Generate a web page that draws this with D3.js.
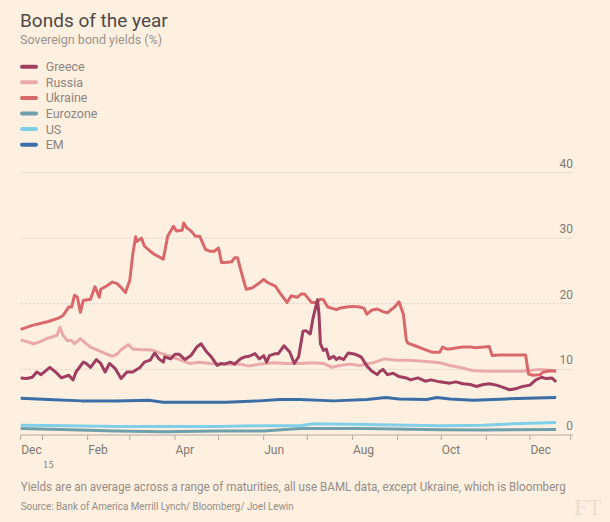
<!DOCTYPE html>
<html>
<head>
<meta charset="utf-8">
<script src="https://cdn.jsdelivr.net/npm/d3@7"></script>
<style>
  body { margin: 0; background: #fdf0e1; }
  svg { display: block; }
</style>
</head>
<body>
<svg id="chartSvg" width="610" height="522"></svg>
<script>
// series data: [date, yield %]
var greeceData = [["2015-12-17",8.7],["2015-12-21",8.6],["2015-12-25",8.8],["2015-12-28",9.6],["2015-12-31",9.2],["2016-01-06",10.3],["2016-01-10",9.6],["2016-01-14",8.7],["2016-01-19",9.1],["2016-01-22",8.4],["2016-01-24",9.6],["2016-01-29",11.1],["2016-01-31",10.9],["2016-02-03",10.3],["2016-02-07",11.5],["2016-02-10",10.9],["2016-02-13",9.6],["2016-02-16",10.9],["2016-02-20",10.1],["2016-02-24",8.6],["2016-02-28",9.6],["2016-03-03",9.6],["2016-03-08",10.3],["2016-03-11",11.1],["2016-03-15",11.4],["2016-03-18",12.5],["2016-03-21",11.6],["2016-03-24",11.1],["2016-03-25",11.9],["2016-03-29",11.6],["2016-04-01",12.3],["2016-04-04",12.3],["2016-04-08",11.5],["2016-04-12",12.1],["2016-04-16",13.4],["2016-04-19",13.9],["2016-04-23",12.6],["2016-04-26",11.9],["2016-04-30",10.6],["2016-05-03",10.9],["2016-05-05",10.8],["2016-05-09",11.1],["2016-05-12",10.8],["2016-05-16",11.6],["2016-05-19",11.9],["2016-05-22",12.0],["2016-05-26",12.4],["2016-05-29",11.6],["2016-06-01",12.1],["2016-06-03",11.1],["2016-06-05",12.1],["2016-06-09",12.4],["2016-06-11",12.4],["2016-06-15",13.6],["2016-06-19",12.6],["2016-06-22",10.9],["2016-06-25",11.9],["2016-06-28",15.8],["2016-06-30",15.9],["2016-07-03",15.4],["2016-07-05",17.9],["2016-07-08",20.6],["2016-07-09",18.4],["2016-07-10",13.9],["2016-07-12",12.9],["2016-07-14",13.1],["2016-07-16",11.6],["2016-07-19",12.0],["2016-07-21",11.5],["2016-07-23",11.8],["2016-07-26",11.5],["2016-07-29",12.5],["2016-08-03",12.3],["2016-08-07",11.9],["2016-08-11",10.5],["2016-08-14",9.8],["2016-08-18",9.2],["2016-08-20",9.7],["2016-08-22",10.0],["2016-08-25",9.2],["2016-08-29",9.4],["2016-09-02",8.9],["2016-09-07",8.7],["2016-09-10",8.4],["2016-09-15",8.7],["2016-09-20",8.2],["2016-09-24",8.4],["2016-09-30",8.1],["2016-10-07",7.9],["2016-10-11",8.1],["2016-10-16",7.8],["2016-10-21",7.7],["2016-10-25",7.4],["2016-10-30",7.7],["2016-11-03",7.8],["2016-11-08",7.6],["2016-11-12",7.3],["2016-11-17",6.9],["2016-11-22",7.1],["2016-11-26",7.4],["2016-12-01",7.6],["2016-12-05",8.4],["2016-12-09",8.8],["2016-12-12",8.6],["2016-12-16",8.7],["2016-12-19",8.1]];

var russiaData = [["2015-12-17",14.5],["2015-12-20",14.3],["2015-12-26",13.9],["2015-12-30",14.2],["2016-01-04",14.7],["2016-01-07",14.9],["2016-01-11",15.2],["2016-01-13",16.4],["2016-01-15",15.2],["2016-01-18",14.4],["2016-01-21",14.4],["2016-01-23",13.9],["2016-01-27",14.7],["2016-01-30",14.1],["2016-02-03",13.4],["2016-02-07",13.0],["2016-02-12",12.5],["2016-02-18",12.0],["2016-02-21",12.3],["2016-02-24",13.0],["2016-02-29",13.8],["2016-03-03",13.1],["2016-03-08",13.0],["2016-03-13",13.0],["2016-03-17",12.9],["2016-03-23",12.4],["2016-03-29",12.0],["2016-04-04",11.5],["2016-04-11",10.9],["2016-04-18",11.1],["2016-04-25",10.9],["2016-05-06",10.8],["2016-05-16",10.8],["2016-05-22",10.5],["2016-05-29",10.8],["2016-06-08",11.0],["2016-06-17",10.9],["2016-06-26",10.9],["2016-07-05",11.0],["2016-07-12",10.9],["2016-07-18",10.3],["2016-07-23",10.6],["2016-07-30",10.8],["2016-08-06",10.6],["2016-08-15",11.0],["2016-08-23",11.6],["2016-08-31",11.4],["2016-09-09",11.4],["2016-09-21",11.2],["2016-09-30",11.0],["2016-10-07",10.6],["2016-10-14",10.3],["2016-10-23",9.8],["2016-11-03",9.7],["2016-11-15",9.7],["2016-11-26",9.7],["2016-12-08",10.0],["2016-12-19",9.8]];

var ukraineData = [["2015-12-17",16.1],["2015-12-25",16.7],["2016-01-05",17.3],["2016-01-12",17.8],["2016-01-15",18.2],["2016-01-19",19.5],["2016-01-21",19.5],["2016-01-23",21.3],["2016-01-25",21.0],["2016-01-27",18.7],["2016-01-29",20.5],["2016-02-03",20.7],["2016-02-06",22.6],["2016-02-07",22.1],["2016-02-09",21.0],["2016-02-10",22.2],["2016-02-14",22.7],["2016-02-18",23.3],["2016-02-21",23.1],["2016-02-24",22.5],["2016-02-27",21.7],["2016-03-01",23.6],["2016-03-03",27.5],["2016-03-05",30.2],["2016-03-06",29.5],["2016-03-09",30.0],["2016-03-11",28.8],["2016-03-15",28.0],["2016-03-18",27.5],["2016-03-24",26.8],["2016-03-27",30.3],["2016-03-31",31.8],["2016-04-02",31.1],["2016-04-06",31.2],["2016-04-07",32.3],["2016-04-09",31.6],["2016-04-12",31.1],["2016-04-15",30.3],["2016-04-18",30.3],["2016-04-22",28.3],["2016-04-25",28.0],["2016-04-28",28.0],["2016-05-01",28.5],["2016-05-03",26.3],["2016-05-06",26.3],["2016-05-10",26.4],["2016-05-12",27.0],["2016-05-14",27.0],["2016-05-18",23.7],["2016-05-20",22.2],["2016-05-24",22.4],["2016-05-28",23.0],["2016-06-01",23.7],["2016-06-04",23.2],["2016-06-09",22.7],["2016-06-12",21.7],["2016-06-17",20.2],["2016-06-20",21.2],["2016-06-24",21.0],["2016-06-27",21.5],["2016-06-29",21.5],["2016-07-02",20.7],["2016-07-04",20.2],["2016-07-07",20.2],["2016-07-10",20.7],["2016-07-12",20.6],["2016-07-15",19.5],["2016-07-21",19.1],["2016-07-23",19.3],["2016-07-28",19.5],["2016-08-01",19.6],["2016-08-06",19.5],["2016-08-09",19.3],["2016-08-11",18.4],["2016-08-14",19.0],["2016-08-18",19.2],["2016-08-22",18.8],["2016-08-25",18.6],["2016-08-27",19.0],["2016-08-30",19.5],["2016-09-02",20.3],["2016-09-05",18.4],["2016-09-07",14.5],["2016-09-08",14.0],["2016-09-13",13.6],["2016-09-19",13.1],["2016-09-25",12.6],["2016-09-30",12.6],["2016-10-02",13.4],["2016-10-05",13.1],["2016-10-07",13.1],["2016-10-12",13.3],["2016-10-16",13.4],["2016-10-21",13.4],["2016-10-25",13.3],["2016-10-30",13.4],["2016-11-03",13.5],["2016-11-05",12.1],["2016-11-10",12.2],["2016-11-17",12.2],["2016-11-24",12.2],["2016-11-28",12.2],["2016-11-30",9.3],["2016-12-03",9.1],["2016-12-08",9.2],["2016-12-10",9.6],["2016-12-15",9.8],["2016-12-19",9.7]];

var eurozoneData = [["2015-12-17",1.0],["2016-01-20",0.8],["2016-02-20",0.6],["2016-03-24",0.5],["2016-04-30",0.6],["2016-06-01",0.6],["2016-06-26",1.0],["2016-08-10",1.0],["2016-09-30",0.8],["2016-10-30",0.75],["2016-12-19",0.85]];

var usData = [["2015-12-17",1.5],["2016-01-20",1.4],["2016-02-20",1.3],["2016-03-24",1.3],["2016-04-30",1.3],["2016-05-29",1.4],["2016-06-26",1.4],["2016-07-05",1.7],["2016-08-10",1.6],["2016-09-30",1.4],["2016-10-30",1.5],["2016-11-20",1.7],["2016-12-19",1.9]];

var emData = [["2015-12-17",5.6],["2016-01-05",5.4],["2016-01-28",5.2],["2016-02-20",5.2],["2016-03-14",5.3],["2016-03-24",5.0],["2016-04-14",5.0],["2016-05-06",5.0],["2016-05-29",5.2],["2016-06-12",5.4],["2016-06-26",5.4],["2016-07-19",5.2],["2016-08-11",5.4],["2016-08-24",5.7],["2016-09-02",5.5],["2016-09-21",5.4],["2016-09-28",5.7],["2016-10-07",5.5],["2016-10-23",5.3],["2016-11-15",5.5],["2016-12-19",5.7]];

var seriesNames = ["Greece", "Russia", "Ukraine", "Eurozone", "US", "EM"];
var seriesColors = ["#9f3e5e", "#eaaaa9", "#d8686b", "#6f9faa", "#80cfe8", "#3b6ea6"];
var yTicks = [0, 10, 20, 30, 40];
var xDomain = ["2015-12-17", "2016-12-29"];
var monthTicks = ["2016-01-01","2016-02-01","2016-03-01","2016-04-01","2016-05-01","2016-06-01","2016-07-01","2016-08-01","2016-09-01","2016-10-01","2016-11-01","2016-12-01"];
var monthLabels = [["2015-12-17","Dec"],["2016-02-01","Feb"],["2016-04-01","Apr"],["2016-06-01","Jun"],["2016-08-01","Aug"],["2016-10-01","Oct"],["2016-12-01","Dec"]];

var chartView = (function () {

    var svg = d3.select("#chartSvg");
    var parseDate = d3.timeParse("%Y-%m-%d");
    var font = "Roboto, 'Open Sans', sans-serif";

    var x = d3.scaleTime().domain(xDomain.map(parseDate)).range([20.7, 570.7]);
    var y = d3.scaleLinear().domain([0, 40]).range([435, 172.5]);
    var gridRight = 573;

    function drawHeader() {
        svg.append("text").attr("x", 20).attr("y", 27)
            .attr("font-family", font).attr("font-size", 19).attr("fill", "#4e4946")
            .text("Bonds of the year");
        svg.append("text").attr("x", 20).attr("y", 44)
            .attr("font-family", font).attr("font-size", 12.5).attr("fill", "#9b928c")
            .text("Sovereign bond yields (%)");

        //legend
        var lg = svg.append("g").selectAll("g").data(seriesNames).enter()
            .append("g")
            .attr("transform", function (d, i) { return "translate(0," + (66.7 + i * 15.6) + ")"; });
        lg.append("line")
            .attr("x1", 22).attr("x2", 36).attr("y1", 0).attr("y2", 0)
            .attr("stroke", function (d, i) { return seriesColors[i]; })
            .attr("stroke-width", 4)
            .attr("stroke-linecap", "round");
        lg.append("text")
            .attr("x", 45.7).attr("y", 4.5)
            .attr("font-family", font).attr("font-size", 12.5).attr("fill", "#8d847e")
            .text(function (d) { return d; });
    }

    function drawAxes() {
        //gridlines
        svg.append("g").selectAll("line").data(yTicks.filter(function (d) { return d > 0; })).enter()
            .append("line")
            .attr("x1", 20.7).attr("x2", gridRight)
            .attr("y1", function (d) { return y(d); })
            .attr("y2", function (d) { return y(d); })
            .attr("stroke", "#d6cdc3")
            .attr("stroke-width", 1)
            .attr("stroke-dasharray", "2,2");

        svg.append("g").selectAll("text").data(yTicks).enter()
            .append("text")
            .attr("x", gridRight).attr("y", function (d) { return y(d) - 5; })
            .attr("text-anchor", "end")
            .attr("font-family", font).attr("font-size", 12).attr("fill", "#80786f")
            .text(function (d) { return d; });

        //x axis line and ticks
        svg.append("line")
            .attr("x1", 20.7).attr("x2", gridRight)
            .attr("y1", y(0)).attr("y2", y(0))
            .attr("stroke", "#b2a89f").attr("stroke-width", 1);

        var tickDates = [xDomain[0]].concat(monthTicks).concat([xDomain[1]]);
        svg.append("g").selectAll("line").data(tickDates).enter()
            .append("line")
            .attr("x1", function (d) { return x(parseDate(d)); })
            .attr("x2", function (d) { return x(parseDate(d)); })
            .attr("y1", y(0)).attr("y2", y(0) + 5)
            .attr("stroke", "#b2a89f").attr("stroke-width", 1);

        svg.append("g").selectAll("text").data(monthLabels).enter()
            .append("text")
            .attr("x", function (d) { return x(parseDate(d[0])) + 0.5; })
            .attr("y", 454)
            .attr("font-family", font).attr("font-size", 12).attr("fill", "#80786f")
            .text(function (d) { return d[1]; });

        svg.append("text").attr("x", 43).attr("y", 468)
            .attr("font-family", "'DejaVu Serif', serif").attr("font-size", 8.5).attr("fill", "#80786f")
            .text("15");
    }

    function drawLines() {
        var allData = [greeceData, russiaData, ukraineData, eurozoneData, usData, emData];
        var lineFun = d3.line()
            .x(function (d) { return x(parseDate(d[0])); })
            .y(function (d) { return y(d[1]); });

        // draw order: flat lines first, Greece on top
        var order = [3, 4, 5, 1, 2, 0];
        svg.append("g").selectAll("path").data(order).enter()
            .append("path")
            .attr("d", function (i) { return lineFun(allData[i]); })
            .attr("stroke", function (i) { return seriesColors[i]; })
            .attr("stroke-width", 3)
            .attr("stroke-linejoin", "round")
            .attr("fill", "none");
    }

    function drawFooter() {
        svg.append("text").attr("x", 20.7).attr("y", 491)
            .attr("font-family", font).attr("font-size", 12.5).attr("fill", "#958c86")
            .attr("textLength", 545).attr("lengthAdjust", "spacingAndGlyphs")
            .text("Yields are an average across a range of maturities, all use BAML data, except Ukraine, which is Bloomberg");
        svg.append("text").attr("x", 20.7).attr("y", 510)
            .attr("font-family", font).attr("font-size", 10).attr("fill", "#958c86")
            .attr("textLength", 273).attr("lengthAdjust", "spacingAndGlyphs")
            .text("Source: Bank of America Merrill Lynch/ Bloomberg/ Joel Lewin");
        svg.append("text").attr("x", 574).attr("y", 515)
            .attr("font-family", "'Liberation Serif', serif").attr("font-size", 24).attr("fill", "#ecdfcf")
            .text("FT");
    }

    drawHeader();
    drawAxes();
    drawLines();
    drawFooter();

    return { svg: svg };
})();
</script>
</body>
</html>
